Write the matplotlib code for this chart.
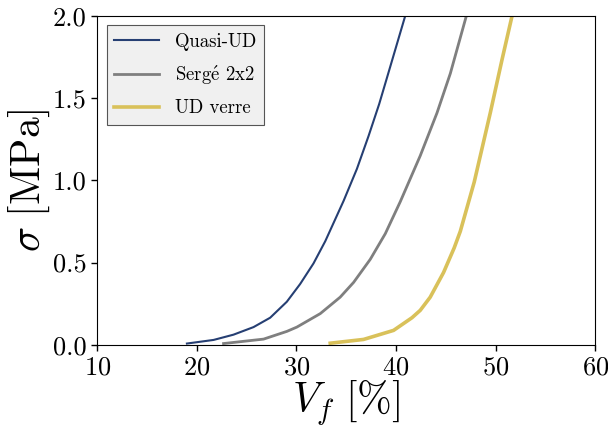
import matplotlib
matplotlib.use("Agg")
import matplotlib.pyplot as plt

# Values (Vf in %, sigma in MPa)
vf_quasi = [19.0, 21.68, 23.68, 25.69, 27.36, 29.03, 30.37, 31.71, 32.89,
            34.73, 36.07, 37.24, 38.31, 39.41, 40.91]
sig_quasi = [0.008, 0.030, 0.062, 0.108, 0.165, 0.262, 0.37, 0.495, 0.63,
             0.875, 1.07, 1.27, 1.465, 1.69, 1.998]

vf_serge = [22.68, 26.7, 29.04, 30.04, 32.39, 34.39, 35.74, 37.41, 38.92,
            40.42, 42.43, 44.11, 45.45, 47.05]
sig_serge = [0.008, 0.035, 0.082, 0.108, 0.19, 0.29, 0.38, 0.52, 0.676,
             0.87, 1.15, 1.41, 1.65, 1.998]

vf_verre = [33.39, 36.74, 39.75, 41.6, 42.43, 43.43, 44.77, 45.84, 46.45,
            47.85, 49.46, 50.63, 51.64]
sig_verre = [0.010, 0.033, 0.088, 0.165, 0.21, 0.29, 0.44, 0.59, 0.69,
             0.99, 1.41, 1.731, 1.998]

labels = [r"Quasi-UD", r"Serg$\acute{\mathrm{e}}$ 2x2", r"UD verre"]
colors = ["#263f73", "#7f7f7f", "#d9c15a"]
widths = [1.5, 2.0, 2.6]

plt.rcParams["font.family"] = ["cmr10", "DejaVu Serif"]
plt.rcParams["mathtext.fontset"] = "cm"
plt.rcParams["axes.formatter.use_mathtext"] = True

fig = plt.figure(figsize=(6.08, 4.30), dpi=100)
ax = fig.add_axes([0.16, 0.198, 0.819, 0.765])

series = [(vf_quasi, sig_quasi), (vf_serge, sig_serge), (vf_verre, sig_verre)]
for (x, y), lab, c, w in zip(series, labels, colors, widths):
    ax.plot(x, y, color=c, lw=w, label=lab, solid_joinstyle="round")

ax.set_xlim(10, 60)
ax.set_ylim(0, 2.0)
ax.set_xticks([10, 20, 30, 40, 50, 60])
ax.set_yticks([0.0, 0.5, 1.0, 1.5, 2.0])
ax.yaxis.set_major_formatter(matplotlib.ticker.FormatStrFormatter("%.1f"))
ax.tick_params(labelsize=19, direction="out", length=4, width=1)
ax.set_xlabel(r"$V_f\ [\%]$", fontsize=30, labelpad=0)
ax.set_ylabel(r"$\sigma\ [\mathrm{MPa}]$", fontsize=30, labelpad=1)

leg = ax.legend(loc="upper left", fontsize=13.5, fancybox=False, framealpha=1,
                facecolor="#f0f0f0", edgecolor="#555555", handlelength=2.4,
                handletextpad=0.85, borderpad=0.4, labelspacing=0.68,
                borderaxespad=0.5)
leg.get_frame().set_linewidth(0.8)

fig.savefig("out.png", dpi=100)
